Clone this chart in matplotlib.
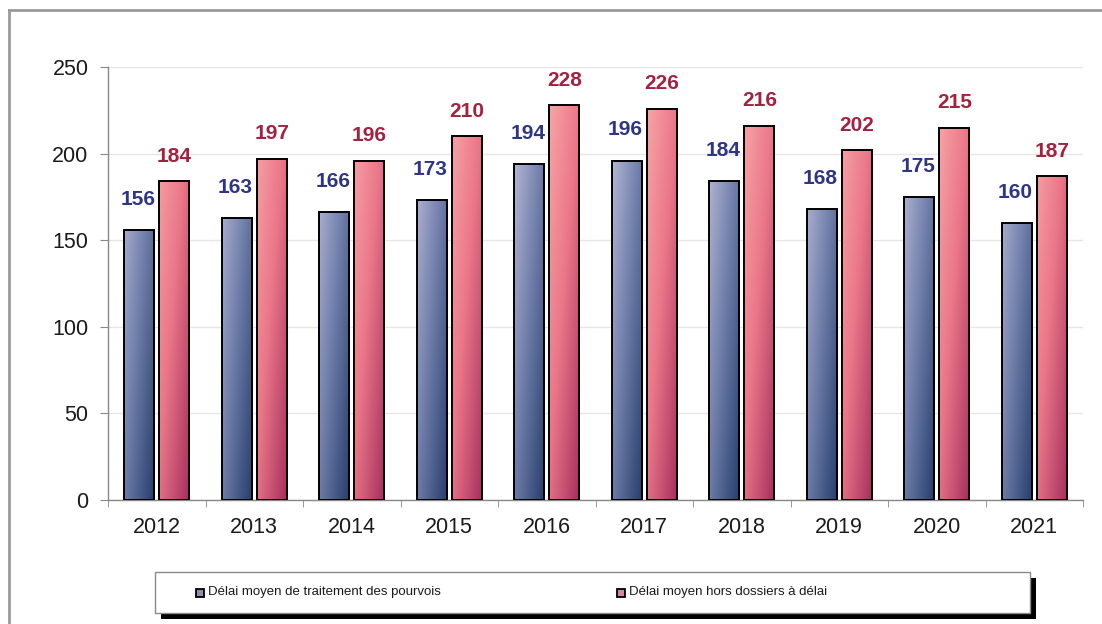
import numpy as np
import matplotlib
matplotlib.use("Agg")
import matplotlib.pyplot as plt
from matplotlib.colors import LinearSegmentedColormap
from matplotlib.patches import Rectangle
from matplotlib.lines import Line2D

years = ["2012", "2013", "2014", "2015", "2016", "2017", "2018", "2019", "2020", "2021"]
delai_pourvois = [156, 163, 166, 173, 194, 196, 184, 168, 175, 160]
delai_hors_dossiers = [184, 197, 196, 210, 228, 226, 216, 202, 215, 187]
legend_labels = ["Délai moyen de traitement des pourvois",
                 "Délai moyen hors dossiers à délai"]

plt.rcParams['font.family'] = ['Liberation Sans', 'DejaVu Sans']

blue_cmap = LinearSegmentedColormap.from_list("b", ["#c8c6e0", "#7482ad", "#263d6b"])
pink_cmap = LinearSegmentedColormap.from_list("p", ["#f9aaaa", "#ea7688", "#a52f5d"])

fig = plt.figure(figsize=(11.02, 6.24), dpi=100)
ax = fig.add_axes([108 / 1102, 1 - 500 / 624, (1083 - 108) / 1102, (500 - 67) / 624])

x = np.arange(len(years)) + 0.5
width = 0.31
off = 0.18
ymax = 250


def gradient_bars(bars, cmap):
    # diagonal gradient: light at top-left, dark at bottom-right
    for rect in bars:
        x0, w, h = rect.get_x(), rect.get_width(), rect.get_height()
        xs = np.linspace(0, 1, 40)
        ys = np.linspace(h, 0, 120)
        xx, yy = np.meshgrid(xs, ys)
        t = 0.45 * xx + 0.55 * (1 - yy / ymax)
        im = ax.imshow(t, cmap=cmap, vmin=0, vmax=1, extent=[x0, x0 + w, 0, h],
                       aspect='auto', interpolation='bicubic', zorder=2)
        im.set_clip_path(rect)


b1 = ax.bar(x - off, delai_pourvois, width, facecolor='none', edgecolor='black',
            linewidth=1.4, zorder=3)
b2 = ax.bar(x + off, delai_hors_dossiers, width, facecolor='none', edgecolor='black',
            linewidth=1.4, zorder=3)
gradient_bars(b1, blue_cmap)
gradient_bars(b2, pink_cmap)

for xi, v in zip(x, delai_pourvois):
    ax.annotate(str(v), (xi - off, v), xytext=(-1, 22), textcoords='offset points',
                ha='center', va='center', fontsize=15, fontweight='bold', color='#2e3585',
                zorder=4)
for xi, v in zip(x, delai_hors_dossiers):
    ax.annotate(str(v), (xi + off, v), xytext=(0, 18), textcoords='offset points',
                ha='center', va='center', fontsize=15, fontweight='bold', color='#a3223f',
                zorder=4)

ax.set_xlim(0, len(years))
ax.set_ylim(0, ymax)
ax.set_yticks(range(0, 251, 50))
ax.yaxis.grid(True, color='#e6e6e6', linewidth=1)
ax.set_axisbelow(True)
ax.tick_params(axis='y', labelsize=15.5, length=6, pad=8, color='#888888', labelcolor='#1a1a1a')

ax.set_xticks(x)
ax.set_xticklabels(years)
ax.set_xticks(np.arange(len(years) + 1), minor=True)
ax.tick_params(axis='x', which='major', length=0, labelsize=15.5, pad=12, labelcolor='#1a1a1a')
ax.tick_params(axis='x', which='minor', length=5, color='#888888')

for s in ['top', 'right']:
    ax.spines[s].set_visible(False)
for s in ['left', 'bottom']:
    ax.spines[s].set_color('#888888')
    ax.spines[s].set_linewidth(1)

# outer frame (top and left edges only visible)
fig.add_artist(Line2D([9 / 1102, 1], [1 - 10 / 624] * 2, color='#9a9a9a', linewidth=2))
fig.add_artist(Line2D([9 / 1102] * 2, [0, 1 - 10 / 624], color='#9a9a9a', linewidth=2))

# legend box with black drop shadow
lx0, lx1, ly0, ly1 = 155, 1030, 572, 613
fig.add_artist(Rectangle(((lx0 + 6) / 1102, 1 - (ly1 + 6) / 624), (lx1 - lx0) / 1102,
                         (ly1 - ly0) / 624, facecolor='black', edgecolor='none'))
fig.add_artist(Rectangle((lx0 / 1102, 1 - ly1 / 624), (lx1 - lx0) / 1102, (ly1 - ly0) / 624,
                         facecolor='white', edgecolor='#8a8a8a', linewidth=1))

legend_x = [196, 617]
legend_colors = ['#8a8fb3', '#d7889a']
for lx, lab, col in zip(legend_x, legend_labels, legend_colors):
    fig.add_artist(Rectangle((lx / 1102, 1 - 597 / 624), 8 / 1102, 8 / 624,
                             facecolor=col, edgecolor='black', linewidth=1.3))
    fig.text((lx + 12) / 1102, 1 - 592 / 624, lab, fontsize=9.5, va='center', ha='left',
             color='#1a1a1a')

fig.savefig("out.png", dpi=100)
